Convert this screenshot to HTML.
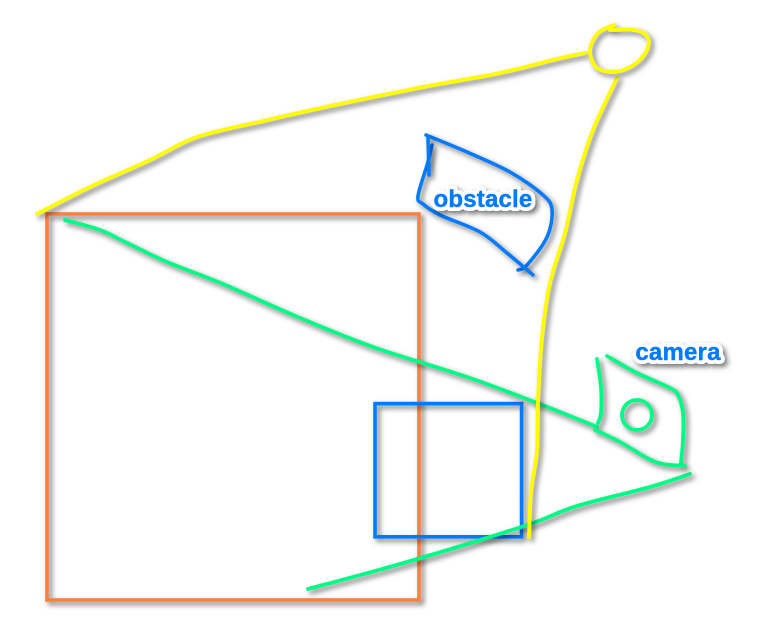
<!DOCTYPE html>
<html lang="en">
<head>
<meta charset="utf-8">
<title>Camera and obstacle sketch</title>
<style>
html,body{margin:0;padding:0;background:#fff;}
svg{display:block;}
.s{fill:none;stroke-linecap:round;stroke-linejoin:round;filter:url(#shadow);}
.g{stroke:#00f986;stroke-width:3.8;}
.y{stroke:#fffb00;stroke-width:3.8;}
.b{stroke:#007aff;stroke-width:3.5;}
.lbl{font-family:"Liberation Sans",sans-serif;font-weight:bold;font-size:24px;letter-spacing:.2px;text-anchor:middle;}
.halo{fill:#fff;stroke:#fff;stroke-width:8;stroke-linejoin:round;filter:url(#shadow);}
.ink{fill:#007aff;stroke:#007aff;stroke-width:.4;}
</style>
</head>
<body>
<svg width="763" height="635" viewBox="0 0 763 635" xmlns="http://www.w3.org/2000/svg">
<defs>
<filter id="shadow" x="0" y="0" width="763" height="635" filterUnits="userSpaceOnUse">
<feDropShadow dx="3" dy="3" stdDeviation="2.6" flood-color="#000" flood-opacity="0.55"/>
</filter>
</defs>
<rect x="0" y="0" width="763" height="635" fill="#fff"/>
<rect x="47" y="214" width="372" height="386" fill="none" stroke="#ff7f3f" stroke-width="3.6" filter="url(#shadow)"/>
<rect x="375" y="403.6" width="146.6" height="133.2" fill="none" stroke="#007aff" stroke-width="3.6" filter="url(#shadow)"/>
<path id="green-top" class="s g"/>
<path id="green-bottom" class="s g"/>
<path id="cam-left" class="s g"/>
<path id="cam-top" class="s g"/>
<path id="cam-low" class="s g"/>
<ellipse cx="637" cy="415" rx="15" ry="15" class="s g"/>
<path id="yellow-left" class="s y"/>
<path id="yellow-right" class="s y"/>
<path id="yellow-sun" class="s y"/>
<path id="ob-a" class="s b"/>
<path id="ob-b" class="s b"/>
<path id="ob-c" class="s b"/>
<text x="483" y="207" class="lbl halo">obstacle</text>
<text x="483" y="207" class="lbl ink">obstacle</text>
<text x="678" y="360" class="lbl halo">camera</text>
<text x="678" y="360" class="lbl ink">camera</text>
</svg>
<script>
const greenTop = [[65,220],[100,230],[127,243],[167,262],[223,284],[293,315],[373,347],[467,377],[537,403],[597,427]];
const greenBottom = [[308,589],[393,566],[477,541],[533,523],[577,506],[650,487],[690,474]];
const camLeft = [[597,359],[601,387],[601,413],[598,423]];
const camTop = [[607,356],[637,373],[670,388],[678,395],[683,413],[683,440],[681,463]];
const camLow = [[595,430],[620,442],[647,458],[663,464],[685,466]];
const yellowLeft = [[37,214],[90,187],[150,160],[197,137],[263,121],[330,106],[423,87],[500,73],[557,59],[585,53]];
const yellowRight = [[617,78],[593,130],[577,180],[565,233],[550,283],[542,337],[538,400],[537,450],[531,492],[529,537]];
const yellowSun = [[614,25],[598,33],[590,50],[596,67],[613,72],[632,66],[646,52],[648,38],[635,30],[610,30]];
const obstacleUpper = [[426,135],[467,152],[510,172],[543,195],[552,210],[547,237],[527,265],[518,270]];
const obstacleLower = [[533,275],[507,253],[480,232],[440,215],[423,204],[418,196],[428,162],[432,145]];
const obstacleTick = [[428,138],[429,175]];

function smooth(p){
  let d = 'M' + p[0][0] + ' ' + p[0][1];
  for(let i = 0; i < p.length - 1; i++){
    const a = p[Math.max(i - 1, 0)], b = p[i], c = p[i + 1], e = p[Math.min(i + 2, p.length - 1)];
    d += ' C' + (b[0] + (c[0] - a[0]) / 6).toFixed(1) + ' ' + (b[1] + (c[1] - a[1]) / 6).toFixed(1) +
         ' ' + (c[0] - (e[0] - b[0]) / 6).toFixed(1) + ' ' + (c[1] - (e[1] - b[1]) / 6).toFixed(1) +
         ' ' + c[0] + ' ' + c[1];
  }
  return d;
}
function draw(id, pts){
  document.getElementById(id).setAttribute('d', smooth(pts));
}
draw('green-top', greenTop);
draw('green-bottom', greenBottom);
draw('cam-left', camLeft);
draw('cam-top', camTop);
draw('cam-low', camLow);
draw('yellow-left', yellowLeft);
draw('yellow-right', yellowRight);
draw('yellow-sun', yellowSun);
draw('ob-a', obstacleUpper);
draw('ob-b', obstacleLower);
draw('ob-c', obstacleTick);
</script>
</body>
</html>
